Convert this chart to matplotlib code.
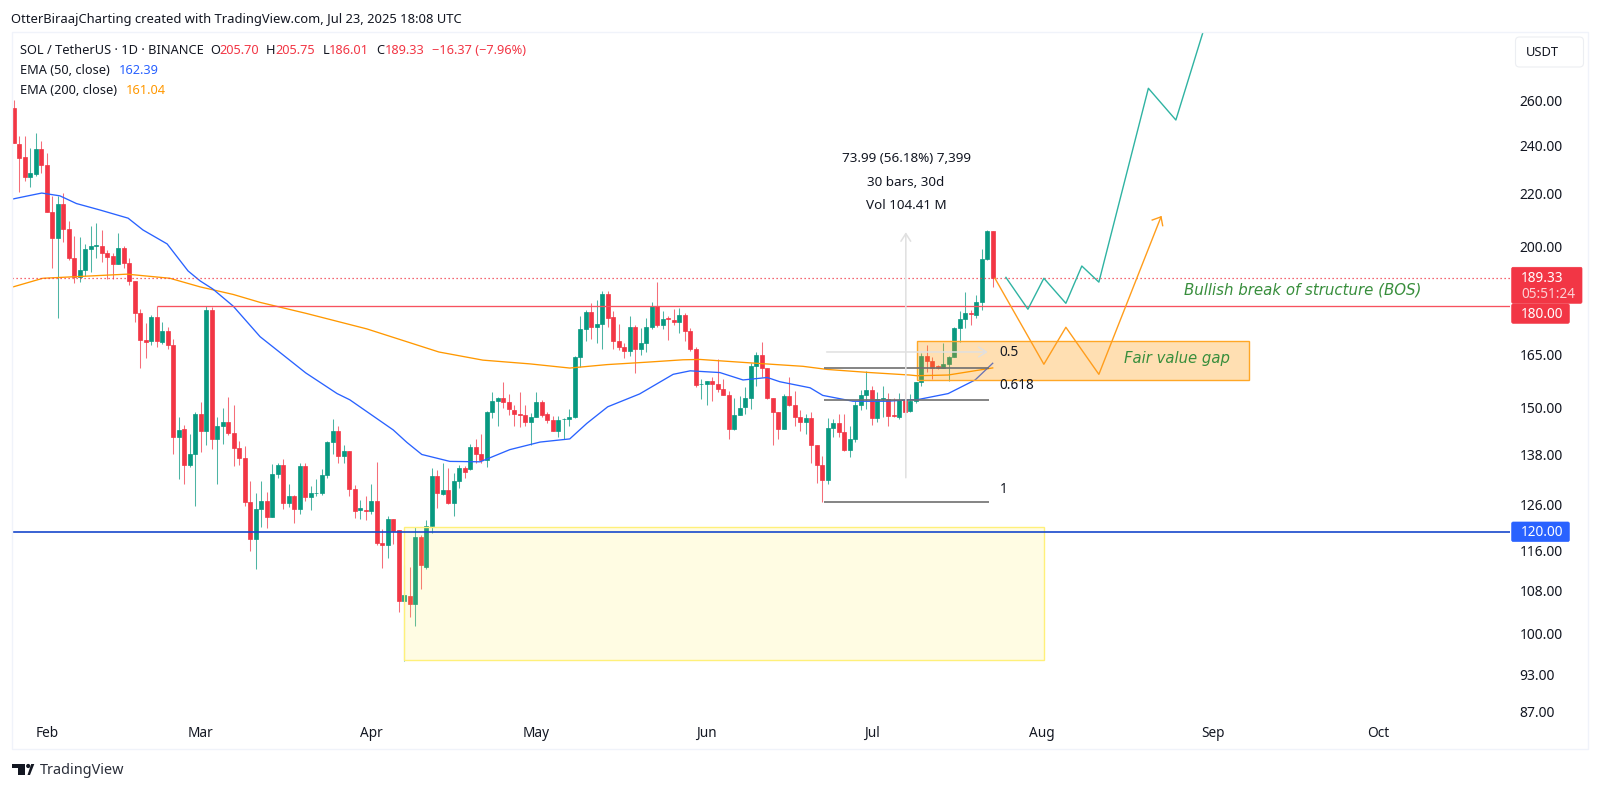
import matplotlib
matplotlib.use("Agg")
import matplotlib.pyplot as plt
from matplotlib.patches import Rectangle, FancyBboxPatch, Polygon, Circle

W, H = 1600, 791
UP, DOWN = "#089981", "#f23645"
UI_FONT = "Noto Sans"
INK = "#131722"

opens = [256.5,240.5,234.8,226.8,227.9,238.3,231.6,213,203.4,216,206.6,196.2,189.4,191.9,199.2,200.5,200.5,198,196.8,194.1,199.5,194.5,188.2,
 177.6,169.3,169,176.5,168.8,172,167.8,142.4,144.3,135.4,137.9,148.2,143.7,178.6,141.9,145,146.2,143.3,139.4,137.1,126.7,118.5,
 125.1,126.8,123.3,133.1,135.4,126.5,128.1,125.1,135,127.7,128.6,128.6,133,141,143.7,137.5,138.8,129.7,124.9,124.9,124.7,126.8,117.6,117.3,122.9,120.4,
 106,107,105.4,119,112.7,121.4,132.6,128.5,129.5,126.5,131.4,134.5,134.4,139.8,137.9,136.6,148.8,151.7,152.6,151.4,149.4,148.2,148,146.2,147.6,151.4,148.3,146.7,143.9,146.9,146.9,
 147.4,164.3,172.7,177.9,173.2,174.1,183.7,176.3,169,167.1,165.9,173.2,166.7,168.4,173.3,179.9,174,176.2,175.6,175,176.9,172,166.7,
 156.4,156.4,157.3,156.6,155.2,153.3,144.3,148,150.2,152.5,161.5,164.9,161,152.5,148.8,144.4,153.1,150.6,147.6,146.2,147.2,140.2,135.4,
 131.8,144.6,146,143.6,139.1,141.7,150.7,153.5,154.8,147.1,152.2,152.2,148.1,147.4,152.1,149,151.7,157,164.4,163.1,161.5,161,162.2,164.2,173,175.8,177.7,177.1,181.2,195.6,205.7]
closes = [241,234.7,226.8,228.2,238.3,231.6,213,203.4,216,206.6,196.2,189.4,191.9,199.3,200.5,200.7,198,196.5,194.1,199.5,194.5,188.2,177.6,
 169.3,168.8,176.5,169,172,167.8,142.4,144.2,135.4,137.9,148.2,143.7,178.6,141.9,145,146.2,143.3,139.4,137.1,126.7,118.5,125.1,
 126.8,123.3,133.1,135.4,126.5,128.1,125.1,135,127.7,128.6,128.7,133,141,143.7,137.5,138.8,129.7,124.7,125.3,124.7,126.8,117.6,117.3,122.9,120.3,106,
 107.2,105.4,119,113.1,121.4,132.6,128.6,129.5,126.5,131.4,134.5,133.6,139.8,137.9,136.6,148.8,151.7,152.6,151.5,149.6,148.3,148.1,146.2,147.6,151.4,148,146.7,143.9,146.7,147,147.4,
 164.3,172.6,177.9,173.2,174.1,183.7,176,169,167.1,165.9,173.2,166.7,168.4,173.3,179.9,174,175.7,175.7,175,176.9,172,166.7,156.3,
 156.6,157.3,156.6,155.2,153.3,144.3,148,150,152.7,161.6,164.9,161,152.5,148.8,144.4,153.1,150.6,147.6,146.2,147.2,140.2,135.4,131.8,
 144.6,146,143.6,139.1,141.7,150.7,153.5,154.8,147.1,152.2,152.7,147.7,147.7,152.1,148.9,151.7,157,164.6,163.1,161,161,162.1,164.2,173,175.8,177.7,177.4,181.2,195.6,205.8,189.33]
highs = [260.3,243.8,243.8,238.7,245.3,241.9,236.6,219.3,219.1,220.3,209.5,204,203.5,201,207.7,208.9,206.2,198.9,197.8,205.2,200.4,196.2,188.2,
 179.1,174.4,177.2,180,174.8,173.2,169.5,147.4,145.3,143,148.8,151.5,179.9,179.5,147.4,149.9,152.8,150.6,141.2,140,131.6,128.6,
 131.4,129,135.6,135.9,136.9,130.8,128.3,135.7,135.7,130.4,131.9,134.4,141.2,147,145.1,140.3,138.8,130.5,127.2,128.1,130.8,136,120.7,123.4,122.9,120.5,
 113.2,112.7,121,119.3,122.7,134.5,134.1,135.7,134.5,133.3,135.3,135,140.5,141.8,143,149.2,154.3,152.8,157,153.7,150.8,154.3,150.8,148.6,154.3,152.1,148.8,147.7,147.7,147.2,149.6,
 164.4,176.7,178.8,180.8,181.8,184.8,184.8,178.3,174.1,168.4,176.6,174,173.1,176,181.3,187.8,178.2,176.6,178.9,179.4,177.6,172.9,167.1,
 157.8,157.3,158.5,163.6,157.8,154.6,152.6,153.2,155.7,162.5,165.7,168.6,161.1,152.7,148.9,153.6,158.5,154.5,149.4,148.3,148.9,140.2,137.5,
 147.1,147,148.3,148.3,145.1,151.7,154.8,160.2,155.8,154.2,156,154,152.5,154,154.1,153.6,157.1,165.5,167.9,164.1,161.9,168.4,164.4,173.3,178.2,184.6,178.6,183.6,199.3,206.2,205.75]
lows = [241,220.8,225.2,222.8,227.1,228.2,213,192.5,176.1,201.9,195.4,187.5,187.8,190,191.3,196,194.8,188.7,189,194,192.7,186.9,174.8,
 161,163.9,167.8,167.3,168.1,166.5,138,132,130.9,134.8,125.8,138.6,140.2,139.3,130.9,140.4,142.7,135.2,135.4,125.7,115.9,112.3,
 121,120.8,123.2,132.1,125.1,125.6,121.9,124,126.9,124.9,128,128.3,132.3,138,135.9,135.8,128,123,122.9,122.7,123.9,117.3,112.6,114.6,117.5,104,
 95.3,103,101.4,108.3,112.3,119.7,125.2,128.2,126.2,123.5,129.9,132.1,134.1,135.8,135.8,134.8,147.3,145.1,150,148.1,145.1,144.8,145,140.3,147.4,147.6,146,143.7,142.4,141.7,145,
 147.3,161.3,168.9,169.5,168.4,166.5,173.4,166.6,166.4,164,164.6,159.7,164.8,165.8,172.7,173.2,172.7,169.3,174,171.4,169,166,155.5,
 152.2,150.6,151.8,154.2,153.3,141.8,144.2,147.9,148.3,149.7,156,158.5,152.4,140.3,141.9,144.3,150.4,145,143.7,143,135.9,131,126.6,
 130.8,142.4,142.4,138.7,137.2,140.9,149.4,149.6,145.3,146.1,147.4,145,147.5,147,147.8,148.7,151.1,155.9,160,157.9,160.8,160.9,157.2,164.1,168.8,173,174,176,178.6,195.3,186.01]

ema50_x = [-0.3,2.6,5.1,8.4,11.4,15.7,20.8,23.5,27.9,31.7,33.9,36.2,39.9,44.8,53.1,58.8,61.1,69,71.5,74.2,79.3,84.8,90.2,95.7,101.1,104.2,108,113.8,119.9,123,128.4,132.6,137,139.3,144.8,147.1,152.6,158.8,162.9,164.2,169.9,174.8,178]
ema50_y = [217.9,219.2,220.3,219.2,216.2,213.7,210.6,206.2,201.1,191.6,188.2,185.5,179.9,170.3,159.6,153.8,152.1,144.1,140.9,137.9,136.2,136.1,139.1,141,141.8,145.8,150.2,153.7,159.2,160.2,159.7,157.6,158.3,157.1,155.4,153.3,151.7,151.7,152.1,152.1,153.8,157.6,162.39]
ema200_x = [-0.3,5.3,10.8,20.6,28.4,33.9,39.9,44.8,53.1,64.2,77.3,85.3,93.9,101.1,107.9,115.1,121.7,124.8,128.4,133.9,143.5,147.9,155.7,162.9,164.2,169.9,178]
ema200_y = [186.1,189.1,189.6,190.5,189.1,186.2,183.7,181.1,177.6,172.7,165.7,163.3,162.2,161,162,162.7,163.4,163.5,163.1,162.5,161.5,160.6,159.7,159,158.8,159,161.04]

teal_x = [180.4,184.4,187.3,191.3,194.2,197.3,206.3,211.3,216.8]
teal_y = [189.4,178.9,189.1,180.8,193.3,187.8,265.8,251.1,299.3]
amber_x = [178.4,187.3,191.3,197.3,208.6]
amber_y = [189.1,162.1,173.2,159.2,211.1]
amber_head_x = [207,208.6,208.9]
amber_head_y = [209.9,211.1,207.8]

y_ticks = [260,240,220,200,165,150,138,126,116,108,100,93,87]
month_pos = [6,34,65,95,126,156,187,218,248]
month_names = ["Feb","Mar","Apr","May","Jun","Jul","Aug","Sep","Oct"]

fib_levels = [161.1,152.1,126.6]
fib_names = ["0.5","0.618","1"]
fib_label_prices = [165.5,156.0,129.4]
fib_start, fib_end = 147.3, 177.3
bos_level, bos_start = 180.0, 26
support_level = 120.0
last_close = 189.33
yellow_box = (71.0, 187.3, 95.5, 121.0)
fvg_box = (164.2, 224.6, 157.7, 169.0)

def fx(px): return px / W
def fy(py): return 1 - py / H

fig = plt.figure(figsize=(W / 100, H / 100), dpi=100, facecolor="white")

# panel frame
fig.add_artist(Rectangle((fx(11.5), fy(749)), fx(1588 - 11.5), (749 - 32) / H, fill=False,
                         edgecolor="#f0f3fa", lw=1.0, transform=fig.transFigure))

ax = fig.add_axes([fx(12), fy(715), fx(1510 - 12), (715 - 32) / H])
ax.set_facecolor("none")
ax.set_yscale("log")
ax.set_xlim(-0.31, 272.05)
ax.set_ylim(86.46, 294.0)
for s in ax.spines.values():
    s.set_visible(False)
ax.minorticks_off()
ax.yaxis.tick_right()
ax.set_yticks(y_ticks)
ax.set_yticklabels([f"{v:.2f}" for v in y_ticks], fontfamily=UI_FONT, fontsize=10.0, color=INK)
ax.tick_params(axis="y", which="both", length=0, pad=7)
ax.set_xticks(month_pos)
ax.set_xticklabels(month_names, fontfamily=UI_FONT, fontsize=9.8, color=INK)
ax.tick_params(axis="x", length=0, pad=8)
ax.yaxis.set_minor_formatter(matplotlib.ticker.NullFormatter())

# candles
idx = list(range(len(opens)))
cols = [UP if c >= o else DOWN for o, c in zip(opens, closes)]
ax.vlines(idx, lows, highs, colors=cols, lw=0.75, alpha=0.72, zorder=2)
ax.bar(idx, [abs(c - o) for o, c in zip(opens, closes)], 0.66,
       bottom=[min(o, c) for o, c in zip(opens, closes)],
       color=cols, edgecolor=cols, lw=0.5, zorder=2.2)

# moving averages
ax.plot(ema200_x, ema200_y, color="#ff9800", lw=0.95, zorder=3)
ax.plot(ema50_x, ema50_y, color="#2962ff", lw=0.95, zorder=3)

# zones
x0, x1, y0, y1 = yellow_box
ax.add_patch(Rectangle((x0, y0), x1 - x0, y1 - y0, facecolor="#ffeb3b", alpha=0.14, lw=0, zorder=3.2))
ax.add_patch(Rectangle((x0, y0), x1 - x0, y1 - y0, fill=False, edgecolor="#fff07a", lw=1.0, zorder=3.2))
x0, x1, y0, y1 = fvg_box
ax.add_patch(Rectangle((x0, y0), x1 - x0, y1 - y0, facecolor="#ff9800", alpha=0.30, lw=0, zorder=3.3))
ax.add_patch(Rectangle((x0, y0), x1 - x0, y1 - y0, fill=False, edgecolor="#ffa726", lw=1.0, zorder=3.3))

# levels
ax.axhline(last_close, color=DOWN, lw=0.9, ls=(0, (1, 2.2)), zorder=3.4)
ax.hlines(bos_level, bos_start, 272.05, color="#f7525f", lw=0.95, zorder=3.4)
ax.axhline(support_level, color="#1848cc", lw=1.2, zorder=3.4)

# fib levels
for lv in fib_levels:
    ax.hlines(lv, fib_start, fib_end, color="#6f6f6f", lw=1.2, zorder=3.5)
for name, price in zip(fib_names, fib_label_prices):
    ax.text(179.3, price, name, fontsize=9.8, fontfamily=UI_FONT, color=INK, va="center", ha="left", zorder=5)

# measuring arrows
ax.annotate("", xy=(162.2, 206.4), xytext=(162.2, 131.6),
            arrowprops=dict(arrowstyle="->,head_length=0.55,head_width=0.35", color="#e0e0e0", lw=1.1), zorder=3.6)
ax.annotate("", xy=(177.6, 165.7), xytext=(147.3, 165.7),
            arrowprops=dict(arrowstyle="->,head_length=0.55,head_width=0.35", color="#e0e0e0", lw=1.1), zorder=3.6)

# projected paths
ax.plot(teal_x, teal_y, color="#2fb3a2", lw=1.0, zorder=4)
ax.plot(amber_x, amber_y, color="#ff9d1c", lw=1.0, zorder=4)
ax.plot(amber_head_x, amber_head_y, color="#ff9d1c", lw=1.0, zorder=4)

def t(x, y, s, color=INK, size=9.2, ha="left", style="normal", weight="normal", family=UI_FONT):
    fig.text(fx(x), fy(y), s, color=color, fontsize=size, ha=ha, va="center",
             fontstyle=style, fontweight=weight, fontfamily=family, zorder=10)

t(11, 19.5, "OtterBiraajCharting created with TradingView.com, Jul 23, 2025 18:08 UTC", size=9.35)
t(20, 50.5, "SOL / TetherUS · 1D · BINANCE", size=9.2)
for xp, s, c in [(210, "O", INK), (219, "205.70", DOWN), (266, "H", INK), (275, "205.75", DOWN),
                 (323, "L", INK), (329, "186.01", DOWN), (376, "C", INK), (385, "189.33", DOWN),
                 (432, "−16.37 (−7.96%)", DOWN)]:
    t(xp, 50.5, s, c, size=9.2)
t(20, 71, "EMA (50, close)", size=9.2)
t(119, 71, "162.39", "#2962ff", size=9.2)
t(20, 91, "EMA (200, close)", size=9.2)
t(126, 91, "161.04", "#ff9800", size=9.2)

t(906, 158, "73.99 (56.18%) 7,399", ha="center", size=9.7)
t(906, 182, "30 bars, 30d", ha="center", size=9.7)
t(906, 205.5, "Vol 104.41 M", ha="center", size=9.7)

t(1303, 290, "Bullish break of structure (BOS)", "#388e3c", size=10.8, ha="center", style="italic", family="DejaVu Sans")
t(1177, 359, "Fair value gap", "#388e3c", size=10.7, ha="center", style="italic", family="DejaVu Sans")

# price scale tags
def tag(x0, x1, y0, y1, col):
    fig.add_artist(FancyBboxPatch((x0 + 1, H - y1 + 1), x1 - x0 - 2, y1 - y0 - 2, boxstyle="round,pad=1,rounding_size=1.5",
                                  facecolor=col, edgecolor=col, lw=0.5,
                                  transform=matplotlib.transforms.IdentityTransform()))

tag(1511.7, 1582, 267.3, 303.3, DOWN)
tag(1511.7, 1569.3, 304, 323.3, DOWN)
tag(1511.7, 1569.3, 522, 541.5, "#2962ff")
t(1521, 278, "189.33", "white", size=9.8, weight="medium")
t(1521, 294.3, "05:51:24", "#fbd0d4", size=9.8)
t(1521, 314, "180.00", "white", size=9.8, weight="medium")
t(1521, 532, "120.00", "white", size=9.8, weight="medium")

fig.add_artist(FancyBboxPatch((1517, H - 65.5), 65, 27, boxstyle="round,pad=1.5,rounding_size=4",
                              facecolor="white", edgecolor="#eceef2", lw=0.8,
                              transform=matplotlib.transforms.IdentityTransform()))
t(1526, 52, "USDT", size=9.3)

# logo
ident = matplotlib.transforms.IdentityTransform()
for pts in [[(12, 764), (25, 764), (25, 775), (18, 775), (18, 768.3), (12, 768.3)],
            [(27.5, 775), (30, 775), (34.3, 764), (31.2, 764)]]:
    fig.add_artist(Polygon([(a, H - b) for a, b in pts], closed=True, facecolor="#131722", edgecolor="none", transform=ident))
fig.add_artist(Circle((28.2, H - 766), 2.1, facecolor="#131722", edgecolor="none", transform=ident))
t(40, 770, "TradingView", "#2a2e39", size=10.4)

fig.savefig("out.png", dpi=100)
